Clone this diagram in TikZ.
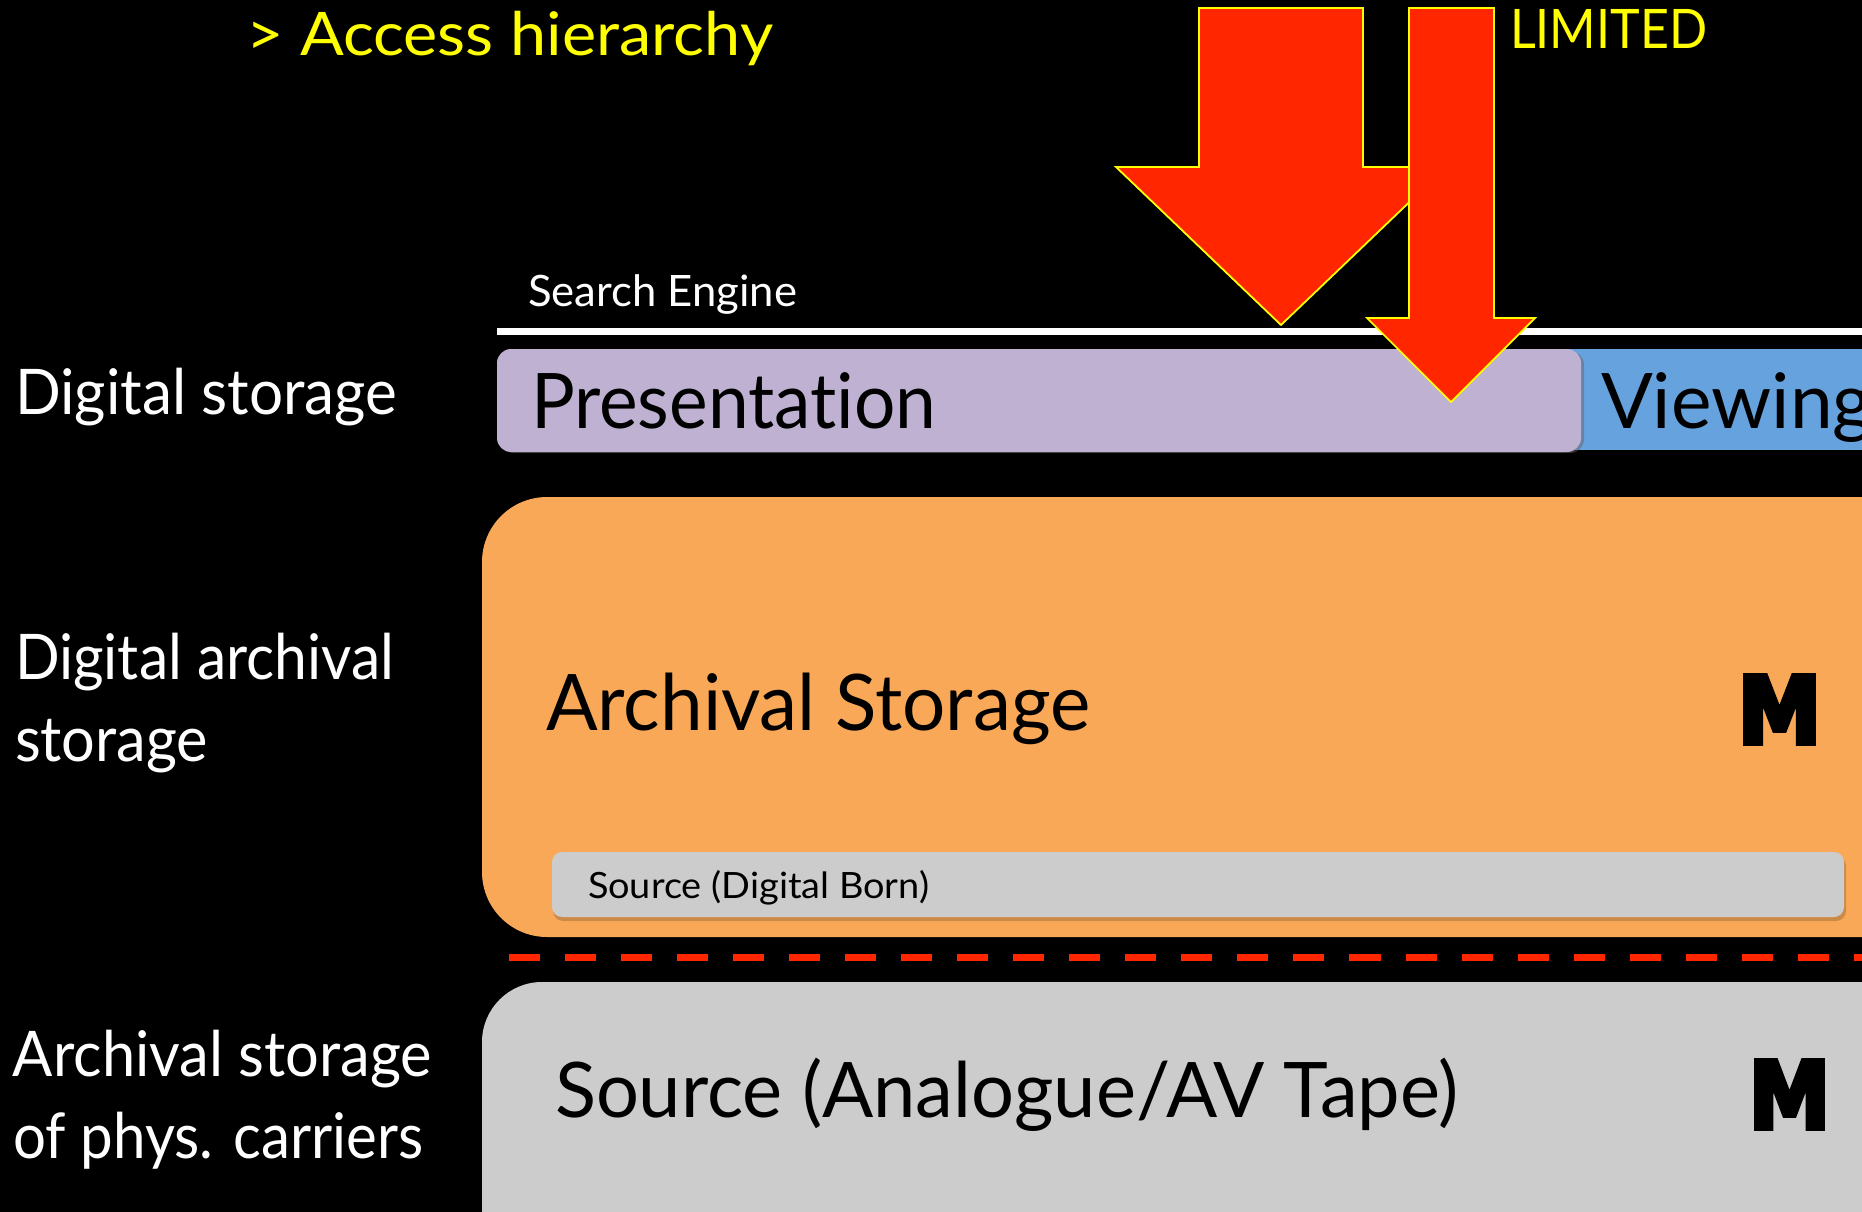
\documentclass[tikz,border=0pt]{standalone}
\usepackage{graphicx}
\usepackage{fontspec}
\setmainfont{Lato}[Ligatures=NoCommon]
\newfontfamily\heavyfont{DejaVu Sans}[BoldFeatures={FakeBold=6}]
\definecolor{kred}{HTML}{FF2600}
\definecolor{kyellow}{HTML}{FFFF00}
\definecolor{lav}{HTML}{BFB1D2}
\definecolor{kblue}{HTML}{66A2DD}
\definecolor{korange}{HTML}{F9A857}
\definecolor{kgray}{HTML}{CCCCCC}
\newcommand{\fs}[1]{\fontsize{#1}{#1}\selectfont}
\newcommand{\wfit}[2]{\resizebox{#1cm}{\height}{#2}}
\tikzset{
  tx/.style={anchor=base west, inner sep=0pt, outer sep=0pt},
  redarrow/.style={fill=kred, draw=kyellow, line width=0.5pt, line join=miter},
  lbl/.style={tx, text=white, font=\fs{17.9pt}},
}
\begin{document}
\begin{tikzpicture}[x=0.01cm, y=-0.01cm]
\useasboundingbox (0,0) rectangle (1862,1212);
\fill[black] (0,0) rectangle (1862,1212);
\clip (0,0) rectangle (1862,1212);

% title
\node[tx, text=kyellow, font=\fs{17.1pt}] (title) at (246,55) {\wfit{5.27}{> Access hierarchy}};

% white search engine line
\draw[white, line width=0.07cm] (497,331.5) -- (1900,331.5);
\node[tx, text=white, font=\fs{12.3pt}] (search) at (528,307) {\wfit{2.69}{Search Engine}};

% viewing / presentation
\fill[kblue] (1540,349) rectangle (1900,450);
\fill[black!60, opacity=0.5, rounded corners=0.14cm] (500,351) rectangle (1584,453);
\fill[lav, rounded corners=0.14cm] (497,349) rectangle (1581,452);
\node[tx, text=black, font=\fs{21.8pt}] (pres) at (531,428) {\wfit{4.05}{Presentation}};
\node[tx, text=black, font=\fs{21.8pt}] (view) at (1601,428) {Viewing};

% archival storage
\fill[korange, rounded corners=0.65cm] (482,497) rectangle (2000,937);
\node[tx, text=black, font=\fs{22.2pt}] (arch) at (546,730) {\wfit{5.44}{Archival Storage}};
\node[tx, text=black] (m1) at (1738,743) {\resizebox{0.83cm}{0.67cm}{\heavyfont\bfseries M}};

% source digital born
\fill[korange!70!black, opacity=0.6, rounded corners=0.1cm] (553,856) rectangle (1846,921);
\fill[kgray, rounded corners=0.1cm] (552,852) rectangle (1844,917);
\node[tx, text=black, font=\fs{10.3pt}] (born) at (588,898) {\wfit{3.41}{Source (Digital Born)}};

% red dashed line
\draw[kred, line width=0.07cm, dash pattern=on 0.31cm off 0.25cm] (509,957.5) -- (1900,957.5);

% analogue source
\fill[kgray, rounded corners=0.6cm] (482,982) rectangle (2000,1300);
\node[tx, text=black, font=\fs{21.8pt}] (tape) at (555,1117) {\wfit{9.03}{Source (Analogue/AV Tape)}};
\node[tx, text=black] (m2) at (1749,1128) {\resizebox{0.81cm}{0.67cm}{\heavyfont\bfseries M}};

% left labels
\node[lbl] (l1) at (15,414) {\wfit{3.82}{Digital storage}};
\node[lbl] (l2a) at (15,679) {\wfit{3.79}{Digital archival}};
\node[lbl] (l2b) at (15,761) {\wfit{1.93}{storage}};
\node[lbl] (l3a) at (13,1076) {\wfit{4.19}{Archival storage}};
\node[lbl] (l3b) at (13,1158) {\wfit{4.10}{of phys. carriers}};

% arrows
\draw[redarrow] (1199,8) -- (1363,8) -- (1363,167) -- (1446,167) -- (1281,325) -- (1116,167) -- (1199,167) -- cycle;
\draw[redarrow] (1409,8) -- (1494,8) -- (1494,318) -- (1535,318) -- (1451,402) -- (1367,318) -- (1409,318) -- cycle;
\node[tx, text=kyellow, font=\fs{15.5pt}] (limited) at (1510,49) {\wfit{1.97}{LIMITED}};
\end{tikzpicture}
\end{document}
